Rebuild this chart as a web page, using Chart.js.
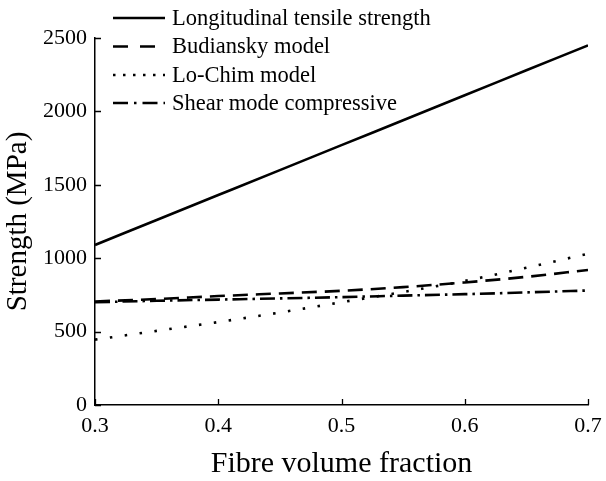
<!DOCTYPE html>
<html>
<head>
<meta charset="utf-8">
<script src="https://cdn.jsdelivr.net/npm/chart.js@4"></script>
<style>
  html, body { margin: 0; padding: 0; background: #fff; }
  #wrap { width: 606px; height: 481px; }
</style>
</head>
<body>
<div id="wrap"><canvas id="chart" width="606" height="481"></canvas></div>
<script>
/* ── Données ─────────────────────────────────────────────── */
const fibreFraction = [0.3, 0.35, 0.4, 0.45, 0.5, 0.55, 0.6, 0.65, 0.7];
const longitudinal  = [1090, 1260, 1430, 1600, 1770, 1940, 2110, 2280, 2450];
const budiansky     = [705, 722, 742, 760, 778, 803, 835, 873, 920];
const loChim        = [445, 505, 565, 630, 700, 770, 845, 935, 1030];
const shearMode     = [700, 710, 718, 726, 735, 745, 755, 767, 780];

const seriesLabels = [
    "Longitudinal tensile strength",
    "Budiansky model",
    "Lo-Chim model",
    "Shear mode compressive",
];
const xTicks = [0.3, 0.4, 0.5, 0.6, 0.7];
const yTicks = [0, 500, 1000, 1500, 2000, 2500];

const SERIF = "'Liberation Serif', 'DejaVu Serif', serif";

function points(values) {
    return fibreFraction.map((x, i) => ({ x, y: values[i] }));
}

/* ── Plugins ─────────────────────────────────────────────── */

// ticks vers l'intérieur
const innerTicks = {
    id: "innerTicks",
    afterDraw(chart) {
        const { ctx, scales: { x, y } } = chart;
        ctx.save();
        ctx.strokeStyle = "#000";
        ctx.lineWidth = 1.3;
        ctx.beginPath();
        xTicks.forEach((v) => {
            const px = Math.round(x.getPixelForValue(v)) + 0.5;
            ctx.moveTo(px, y.bottom);
            ctx.lineTo(px, y.bottom - 6);
        });
        yTicks.forEach((v) => {
            const py = Math.round(y.getPixelForValue(v)) + 0.5;
            ctx.moveTo(x.left, py);
            ctx.lineTo(x.left + 6, py);
        });
        ctx.stroke();
        ctx.restore();
    },
};

// légende en haut à gauche, au-dessus du graphe
const legendLines = {
    id: "legendLines",
    afterDraw(chart) {
        const { ctx } = chart;
        const rows = [18, 46.5, 75, 103];
        ctx.save();
        ctx.font = `22.5px ${SERIF}`;
        ctx.textBaseline = "middle";
        ctx.fillStyle = "#000";
        chart.data.datasets.forEach((ds, i) => {
            const yy = rows[i];
            ctx.strokeStyle = "#000";
            ctx.lineWidth = 2.5;
            ctx.setLineDash(ds.legendDash || []);
            ctx.beginPath();
            ctx.moveTo(113, yy);
            ctx.lineTo(165, yy);
            ctx.stroke();
            ctx.setLineDash([]);
            ctx.fillText(ds.label, 172, yy + 1);
        });
        ctx.restore();
    },
};

/* ── Graphique ───────────────────────────────────────────── */

const baseLine = {
    borderColor: "#000",
    borderWidth: 2.6,
    pointRadius: 0,
    fill: false,
    cubicInterpolationMode: "monotone",
};

new Chart(document.getElementById("chart").getContext("2d"), {
    type: "line",
    data: {
        datasets: [
            { ...baseLine, label: seriesLabels[0], data: points(longitudinal), borderDash: [], legendDash: [] },
            { ...baseLine, label: seriesLabels[1], data: points(budiansky), borderDash: [15, 8], legendDash: [15, 12] },
            { ...baseLine, label: seriesLabels[2], data: points(loChim), borderDash: [2.5, 12.5], legendDash: [2.5, 7.5] },
            { ...baseLine, label: seriesLabels[3], data: points(shearMode), borderDash: [15, 5, 2.5, 5], legendDash: [15, 6, 2.5, 6] },
        ],
    },
    options: {
        responsive: false,
        animation: false,
        layout: { padding: { top: 38, right: 18, left: 0, bottom: 0 } },
        plugins: { legend: { display: false }, tooltip: { enabled: false } },
        scales: {
            x: {
                type: "linear",
                min: 0.3,
                max: 0.7,
                afterBuildTicks: (s) => { s.ticks = xTicks.map((v) => ({ value: v })); },
                afterFit: (s) => { s.height = 76; s.paddingLeft = 0; s.paddingRight = 0; },
                grid: { display: false, drawTicks: false },
                border: { display: true, color: "#000", width: 1.5 },
                ticks: {
                    color: "#000",
                    padding: 8,
                    font: { family: SERIF, size: 22 },
                    callback: (v) => Number(v).toFixed(1),
                },
                title: {
                    display: true,
                    text: "Fibre volume fraction",
                    color: "#000",
                    font: { family: SERIF, size: 30, lineHeight: 1.1 },
                    padding: { top: 0, bottom: 0 },
                },
            },
            y: {
                min: 0,
                max: 2500,
                afterBuildTicks: (s) => { s.ticks = yTicks.map((v) => ({ value: v })); },
                afterFit: (s) => { s.width = 95; s.paddingTop = 0; s.paddingBottom = 0; },
                grid: { display: false, drawTicks: false },
                border: { display: true, color: "#000", width: 1.5 },
                ticks: {
                    color: "#000",
                    padding: 8,
                    font: { family: SERIF, size: 22 },
                    callback: (v) => String(v),
                },
                title: {
                    display: true,
                    text: "Strength (MPa)",
                    color: "#000",
                    font: { family: SERIF, size: 29 },
                    padding: { top: 1, bottom: 0 },
                },
            },
        },
    },
    plugins: [innerTicks, legendLines],
});
</script>
</body>
</html>
